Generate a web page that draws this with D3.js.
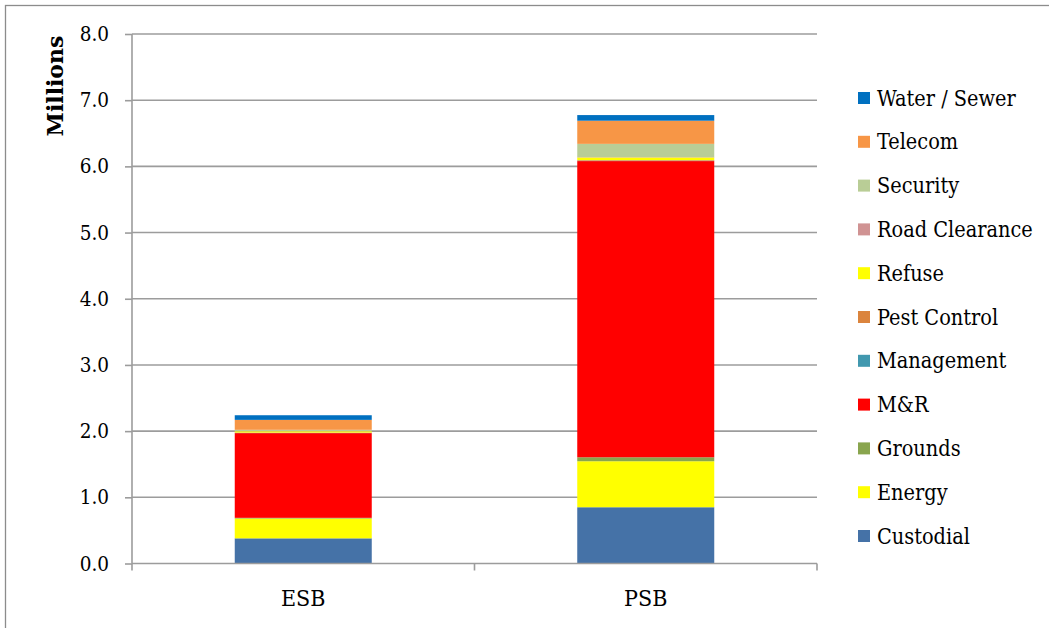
<!DOCTYPE html>
<html>
<head>
<meta charset="utf-8">
<script src="https://cdnjs.cloudflare.com/ajax/libs/d3/7.8.5/d3.min.js"></script>
<style>
  html, body { margin: 0; padding: 0; background: #fff; }
  svg { display: block; }
  .cond { font-family: 'DejaVu Serif Condensed', 'DejaVu Serif', serif; font-stretch: condensed; }
</style>
</head>
<body>
<svg id="chart" width="1049" height="628"></svg>
<script>
// ---- data ----
const categories = ["ESB", "PSB"];
const seriesNames = ["Custodial", "Energy", "Grounds", "M&R", "Management", "Pest Control", "Refuse", "Road Clearance", "Security", "Telecom", "Water / Sewer"];
const custodial     = [0.38, 0.85];
const energy        = [0.30, 0.695];
const grounds       = [0.01, 0.06];
const mr            = [1.28, 4.475];
const management    = [0.003, 0.005];
const pestControl   = [0.005, 0.01];
const refuse        = [0.02, 0.04];
const roadClearance = [0.002, 0.005];
const security      = [0.02, 0.20];
const telecom       = [0.15, 0.35];
const waterSewer    = [0.07, 0.085];
const yTicks = [0, 1, 2, 3, 4, 5, 6, 7, 8];
const colors = ["#4572A7", "#FFFF00", "#89A54E", "#FF0000", "#4198AF", "#DB843D", "#FFFF00", "#D09393", "#B9CD96", "#F79646", "#0070C0"];

const seriesValues = [custodial, energy, grounds, mr, management, pestControl, refuse, roadClearance, security, telecom, waterSewer];
const table = categories.map((c, i) => {
  const row = { category: c };
  seriesNames.forEach((s, j) => row[s] = seriesValues[j][i]);
  return row;
});

const svg = d3.select("#chart");

// outer chart border
svg.append("rect").attr("x", 5.5).attr("y", 5.5).attr("width", 1100).attr("height", 700)
  .attr("fill", "#fff").attr("stroke", "#8c8c8c").attr("stroke-width", 1.3);

const x0 = 132, x1 = 817, yTop = 34, yBot = 563.5;
const x = d3.scaleBand().domain(categories).range([x0, x1]).paddingInner(0.6).paddingOuter(0.3);
const y = d3.scaleLinear().domain([0, 8]).range([yBot, yTop]);

// gridlines
svg.append("g").selectAll("line").data(yTicks.filter(d => d > 0)).join("line")
  .attr("x1", x0).attr("x2", x1).attr("y1", d => y(d)).attr("y2", d => y(d))
  .attr("stroke", "#9c9c9c").attr("stroke-width", 1.6);

// bars
const stack = d3.stack().keys(seriesNames)(table);
svg.append("g").selectAll("g").data(stack).join("g")
  .attr("fill", (d, i) => colors[i])
  .selectAll("rect").data(d => d).join("rect")
  .attr("x", d => x(d.data.category))
  .attr("width", x.bandwidth())
  .attr("y", d => y(d[1]))
  .attr("height", d => Math.max(0, y(d[0]) - y(d[1])));

// y axis
const yAxis = d3.axisLeft(y).tickValues(yTicks).tickFormat(d3.format(".1f")).tickSize(7).tickPadding(16);
const gy = svg.append("g").attr("transform", `translate(${x0},0)`).call(yAxis);
gy.attr("font-family", null).attr("font-size", null);
gy.select(".domain").attr("stroke", "#9c9c9c").attr("stroke-width", 1.6).attr("d", `M0,${yTop}V${yBot}`);
gy.selectAll(".tick line").attr("stroke", "#9c9c9c").attr("stroke-width", 1.6);
gy.selectAll(".tick text").attr("class", "cond").attr("font-size", 20.5).attr("fill", "#000");

// x axis
const gx = svg.append("g").attr("transform", `translate(0,${yBot})`);
gx.append("line").attr("x1", x0).attr("x2", x1).attr("stroke", "#9c9c9c").attr("stroke-width", 1.6);
const bounds = [x0, (x0 + x1) / 2, x1];
gx.selectAll("line.tk").data(bounds).join("line").attr("class", "tk")
  .attr("x1", d => d).attr("x2", d => d).attr("y1", 0).attr("y2", 7)
  .attr("stroke", "#9c9c9c").attr("stroke-width", 1.6);
gx.selectAll("text").data(categories).join("text")
  .attr("class", "cond")
  .attr("x", d => x(d) + x.bandwidth() / 2).attr("y", 42)
  .attr("text-anchor", "middle").attr("font-size", 23).attr("fill", "#000")
  .text(d => d);

// y axis title
svg.append("text").attr("transform", "translate(63,86) rotate(-90)")
  .attr("text-anchor", "middle").attr("font-family", "'DejaVu Serif', serif").attr("font-weight", "bold")
  .attr("font-size", 22).attr("fill", "#000").text("Millions");

// legend (reverse order)
const legendItems = seriesNames.map((n, i) => ({ name: n, color: colors[i] })).reverse();
const lg = svg.append("g").selectAll("g").data(legendItems).join("g")
  .attr("transform", (d, i) => `translate(858,${98 + i * 43.8})`);
lg.append("rect").attr("x", 0).attr("y", -6).attr("width", 12).attr("height", 12).attr("fill", d => d.color);
lg.append("text").attr("class", "cond").attr("x", 19).attr("y", 7.5).attr("font-size", 21.5)
  .attr("fill", "#000").text(d => d.name);
</script>
</body>
</html>
